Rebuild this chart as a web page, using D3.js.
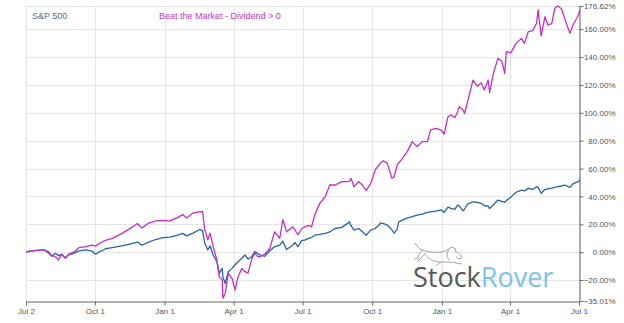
<!DOCTYPE html>
<html><head><meta charset="utf-8">
<script src="https://cdn.jsdelivr.net/npm/d3@7"></script>
<style>html,body{margin:0;padding:0;background:#fff;}svg{display:block;}</style>
</head><body><svg id="c" width="624" height="323"></svg>
<script>
const dates = [
"2019-07-02","2019-07-07","2019-07-15","2019-07-26",
"2019-08-01","2019-08-05","2019-08-10","2019-08-14","2019-08-18","2019-08-23","2019-08-27",
"2019-09-03","2019-09-10","2019-09-19","2019-09-27",
"2019-10-02","2019-10-06","2019-10-11","2019-10-15","2019-10-24",
"2019-11-07","2019-11-20","2019-11-26",
"2019-12-02","2019-12-10","2019-12-20","2019-12-30",
"2020-01-08","2020-01-17","2020-01-25","2020-01-30",
"2020-02-07","2020-02-16","2020-02-20","2020-02-23","2020-02-27",
"2020-03-01","2020-03-05","2020-03-10","2020-03-13","2020-03-17","2020-03-18","2020-03-21","2020-03-25","2020-03-30",
"2020-04-03","2020-04-07","2020-04-12","2020-04-16","2020-04-20","2020-04-25","2020-04-29",
"2020-05-03","2020-05-06","2020-05-12","2020-05-19","2020-05-25",
"2020-06-01","2020-06-05","2020-06-10","2020-06-18","2020-06-21","2020-06-25","2020-06-30",
"2020-07-04","2020-07-09","2020-07-13","2020-07-17","2020-07-24","2020-07-31",
"2020-08-06","2020-08-13","2020-08-22","2020-08-29",
"2020-09-01","2020-09-03","2020-09-07","2020-09-13","2020-09-18","2020-09-23","2020-09-29",
"2020-10-05","2020-10-10","2020-10-12","2020-10-16","2020-10-21","2020-10-27","2020-10-30",
"2020-11-03","2020-11-05","2020-11-10","2020-11-16","2020-11-23","2020-11-29",
"2020-12-06","2020-12-13","2020-12-17","2020-12-24","2020-12-31",
"2021-01-04","2021-01-09","2021-01-13","2021-01-18","2021-01-22","2021-01-24","2021-01-29","2021-01-31",
"2021-02-04","2021-02-11","2021-02-17","2021-02-22","2021-02-26",
"2021-03-03","2021-03-05","2021-03-10","2021-03-16","2021-03-21","2021-03-25","2021-03-27",
"2021-04-02","2021-04-09","2021-04-16","2021-04-20","2021-04-25",
"2021-05-01","2021-05-06","2021-05-08","2021-05-12","2021-05-17","2021-05-21","2021-05-26","2021-05-30",
"2021-06-03","2021-06-08","2021-06-12","2021-06-19","2021-06-23","2021-06-28",
"2021-07-01","2021-07-02"];

const sp500 = [
0,0.8,1.2,1.6,
0.3,-3.0,-0.8,-2.5,-1.5,-4.0,-2.0,
-0.8,1.0,1.6,0.8,
-1.5,0.0,1.2,2.5,3.3,
4.7,6.4,7.3,
5.0,7.0,9.1,10.5,
10.8,12.1,13.5,11.7,
13.5,16.3,15.5,6.4,1.6,
4.5,-2.0,-6.8,-15.2,-11.6,-18.0,-22.4,-14.0,-11.6,
-9.0,-6.8,-4.4,-2.0,-5.0,-3.2,0.4,
-1.0,-2.0,-3.0,1.0,3.9,
5.0,7.9,1.9,5.0,7.0,3.9,8.5,
8.7,9.9,10.5,12.2,12.8,13.5,
14.5,17.0,17.8,20.5,
21.8,19.0,15.8,17.0,14.6,12.2,15.8,
17.0,19.5,21.1,20.5,19.5,16.0,13.7,
16.5,21.8,23.0,24.5,25.5,26.6,
27.3,28.5,29.0,29.5,30.3,
28.5,32.3,31.5,30.8,33.9,33.0,29.7,31.0,
34.5,36.2,35.8,35.0,33.5,
33.0,31.3,34.0,37.4,36.5,35.8,37.0,
39.5,43.0,44.6,44.0,45.8,
45.0,47.0,46.5,42.3,45.0,45.5,46.0,46.5,
47.0,47.5,48.2,46.5,49.0,50.3,
50.6,52.3];

const beatMarket = [
0,0.8,1.3,1.8,
-1.0,-2.0,-3.5,-5.5,-1.5,-4.5,-1.5,
0.0,3.3,4.0,5.0,
4.3,6.0,7.5,8.5,9.9,
13.9,18.2,20.6,
17.4,20.6,22.4,22.9,
22.5,24.6,27.0,24.6,
28.0,29.0,29.2,16.1,8.9,
13.7,4.1,-5.5,-17.5,-19.9,-33.0,-29.5,-15.2,-18.8,
-27.1,-17.5,-11.6,-14.0,-15.0,-5.0,-0.8,
-3.2,-3.2,-1.5,2.8,14.6,
10.0,23.4,14.6,18.2,16.1,12.5,17.0,
18.2,19.3,18.2,26.6,35.2,39.8,
48.2,48.2,50.6,50.6,
51.0,53.0,47.0,50.6,48.2,44.1,49.4,
59.0,62.6,64.0,65.6,63.7,53.0,54.0,
62.6,64.0,67.3,72.0,79.3,75.7,
79.3,79.3,87.7,88.9,87.5,
84.8,97.2,98.5,96.5,101.0,104.4,102.0,99.6,
108.0,123.5,119.0,121.5,116.4,
123.5,114.4,128.3,139.1,137.0,128.3,143.9,
143.0,149.8,153.4,149.8,158.2,
159.0,164.2,173.8,155.1,168.9,163.0,164.0,175.0,
176.6,174.5,167.8,157.0,163.0,167.8,
171.4,173.8];

const xTickDates = ["2019-07-02","2019-10-01","2020-01-01","2020-04-01","2020-07-01","2020-10-01","2021-01-01","2021-04-01","2021-07-01"];
const yTicks = [-35.01,-20,0,20,40,60,80,100,120,140,160,176.62];
const seriesNames = ["S&P 500","Beat the Market - Dividend > 0"];

const parse = d3.timeParse("%Y-%m-%d");
const svg = d3.select("#c");
const L = 26, R = 579, T = 6, B = 301;
const x = d3.scaleTime().domain([parse("2019-07-02"), parse("2021-07-01")]).range([L, R]);
const y = d3.scaleLinear().domain([-35.01, 176.62]).range([B, T]);
const font = "'Liberation Sans', Arial, sans-serif";

// grid
const g = svg.append("g");
g.selectAll("line.h").data(yTicks.filter(v => v > -35)).enter().append("line")
  .attr("x1", L).attr("x2", R).attr("y1", d => Math.round(y(d)) + 0.5).attr("y2", d => Math.round(y(d)) + 0.5)
  .attr("stroke", "#e6e6e6").attr("stroke-width", 1);
g.selectAll("line.v").data(xTickDates.map(parse)).enter().append("line")
  .attr("y1", T).attr("y2", B).attr("x1", d => Math.round(x(d)) + 0.5).attr("x2", d => Math.round(x(d)) + 0.5)
  .attr("stroke", "#e6e6e6").attr("stroke-width", 1);

// logo
const logo = svg.append("g");
const dog = "M415,243 C417,246 419,249 422,250 C428,252 436,253 442,252 C445,251 447,250 449,249 L452,247 L456,249 L455,251 C458,252 461,255 462,258 L459,259 L456,257 M449,249 C447,253 446,257 449,260 M422,250 C419,253 418,256 419,258 L414,259 M424,253 C427,258 433,262 441,262 C446,262 452,262 456,263 L462,264 M441,262 L436,266 M424,255 L417,262";
logo.append("path").attr("d", dog).attr("fill", "none").attr("stroke", "#8a8a8a").attr("stroke-width", 0.8);
const lt = logo.append("text").attr("x", 413).attr("y", 287)
  .attr("font-family", "'Open Sans', sans-serif").attr("font-size", 27);
lt.append("tspan").attr("fill", "#58595b").text("Stock");
lt.append("tspan").attr("fill", "#7cc3ec").text("Rover");

// lines
const pts = arr => arr.map((v, i) => [parse(dates[i]), v]);
const line = d3.line().x(d => x(d[0])).y(d => y(d[1]));
svg.append("path").datum(pts(sp500)).attr("d", line)
  .attr("fill", "none").attr("stroke", "#2463a6").attr("stroke-width", 1.3).attr("stroke-linejoin", "round");
svg.append("path").datum(pts(beatMarket)).attr("d", line)
  .attr("fill", "none").attr("stroke", "#c72ec7").attr("stroke-width", 1.3).attr("stroke-linejoin", "round");

// x axis
const xa = svg.append("g").attr("transform", `translate(0,${B + 0.5})`)
  .call(d3.axisBottom(x).tickValues(xTickDates.map(parse)).tickFormat(d3.timeFormat("%b %-d")).tickSize(4).tickSizeOuter(0));
xa.select(".domain").attr("stroke", "#666");
xa.selectAll(".tick line").attr("stroke", "#666");
xa.selectAll("text").attr("font-family", font).attr("font-size", 8).attr("fill", "#555");

// y axis right
const ya = svg.append("g").attr("transform", `translate(${R + 0.5},0)`)
  .call(d3.axisRight(y).tickValues(yTicks).tickFormat(d => d3.format(".2f")(d) + "%").tickSize(4).tickSizeOuter(0));
ya.select(".domain").attr("stroke", "#666");
ya.selectAll(".tick line").attr("stroke", "#666");
ya.selectAll("text").attr("font-family", font).attr("font-size", 8).attr("fill", "#555")
  .attr("text-anchor", "end").attr("x", 36);

// legend
svg.append("text").attr("x", 32).attr("y", 19).attr("font-family", font).attr("font-size", 9)
  .attr("fill", "#4572a7").text(seriesNames[0]);
svg.append("text").attr("x", 159).attr("y", 19).attr("font-family", font).attr("font-size", 9)
  .attr("fill", "#cc33cc").text(seriesNames[1]);
</script></body></html>
